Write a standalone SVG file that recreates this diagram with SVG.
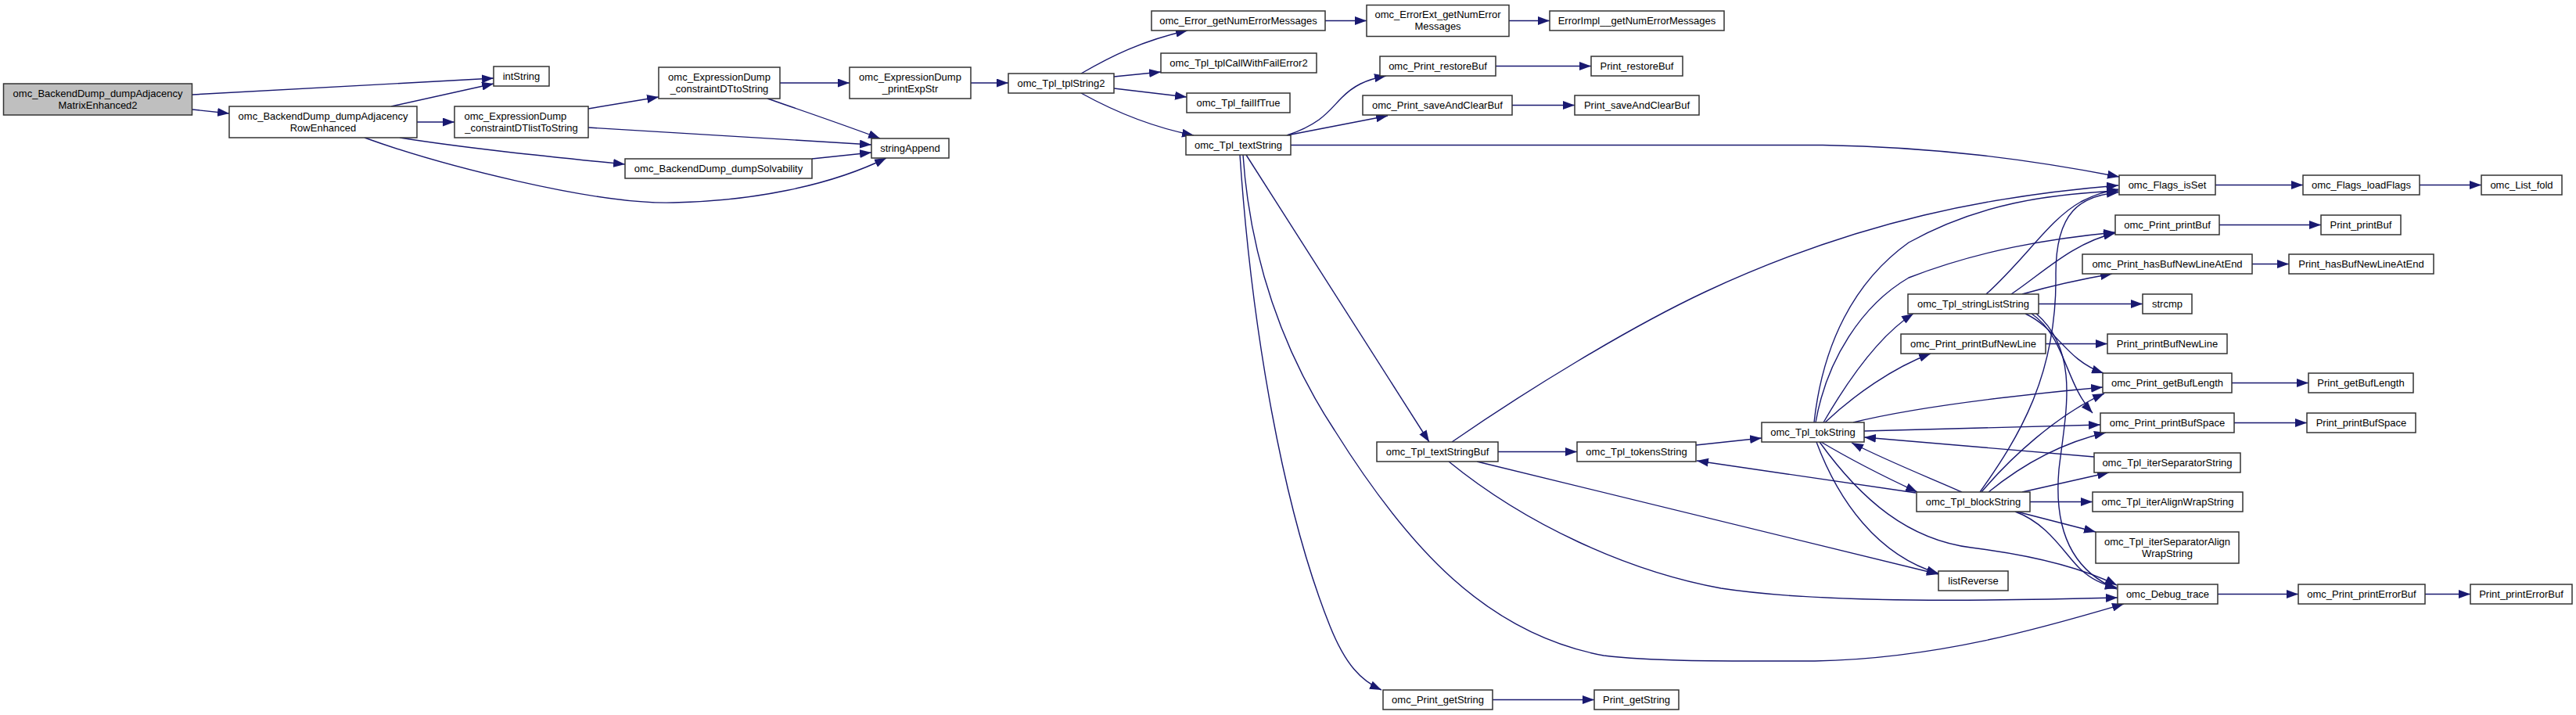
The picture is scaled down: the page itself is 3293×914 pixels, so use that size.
<svg xmlns="http://www.w3.org/2000/svg" width="3293" height="914" viewBox="0 0 3293 914">
<style>
.n rect{fill:#fff;stroke:#333;stroke-width:1.5}
.root rect{fill:#bfbfbf}
text{font-family:"Liberation Sans",Arial,sans-serif;font-size:13px;fill:#000;text-anchor:middle}
.e path{fill:none;stroke:#191970;stroke-width:1.4;marker-end:url(#a)}
</style>
<defs>
<marker id="a" markerUnits="userSpaceOnUse" markerWidth="15" markerHeight="11" refX="15" refY="5.5" orient="auto" viewBox="0 0 15 11"><path d="M0,0 L15,5.5 L0,11 z" fill="#191970"/></marker>
</defs>
<rect width="3293" height="914" fill="#fff"/>
<g id="edges" class="e">
<path d="M246,121 L631,100"/>
<path d="M246,140 L293,145"/>
<path d="M500,136 L631,107"/>
<path d="M533,156 L581,156"/>
<path d="M511,176 C600,190 700,200 799,210"/>
<path d="M466,176 C560,210 760,262 861,259 C960,257 1060,238 1133,202"/>
<path d="M752,139 L842,124"/>
<path d="M752,163 L1114,185"/>
<path d="M997,106 L1086,106"/>
<path d="M981,126 C1030,143 1080,160 1125,177"/>
<path d="M1038,203 L1114,195"/>
<path d="M1241,106 L1289,106"/>
<path d="M1382,94 C1420,72 1460,52 1518,39"/>
<path d="M1424,98 L1484,92"/>
<path d="M1424,113 L1517,124"/>
<path d="M1382,119 C1420,140 1470,162 1526,173"/>
<path d="M1694,26.5 L1747,26.5"/>
<path d="M1929,26.5 L1981,26.5"/>
<path d="M1645,173 C1690,158 1700,140 1715,125 C1730,110 1745,102 1772,97"/>
<path d="M1645,173 L1774,148"/>
<path d="M1912,84.5 L2034,84.5"/>
<path d="M1933,134.5 L2013,134.5"/>
<path d="M1650,185.5 L2330,185.5 C2480,188 2600,205 2709,226"/>
<path d="M1593,198 L1827,565"/>
<path d="M1589,198 C1598,330 1640,450 1706,550 C1800,700 1900,810 2050,838 C2120,846 2200,845 2320,845 C2480,842 2620,800 2715,772"/>
<path d="M1585,198 C1600,420 1640,650 1700,800 C1720,850 1740,870 1766,882"/>
<path d="M1915,577.5 L2016,577.5"/>
<path d="M1856,565 C1950,500 2080,420 2180,373 C2380,280 2550,250 2708,237"/>
<path d="M1888,590 L2478,734"/>
<path d="M1852,590 C1950,670 2080,730 2200,752 C2330,772 2550,768 2707,764"/>
<path d="M2168,569 L2252,560"/>
<path d="M2449,630 L2169,589"/>
<path d="M2328,565 C2370,590 2410,610 2451,629"/>
<path d="M2508,629 C2460,608 2410,588 2367,566"/>
<path d="M2677,584 L2383,559"/>
<path d="M2322,565 C2350,640 2400,710 2478,733"/>
<path d="M2326,565 C2380,640 2440,690 2520,700 C2600,710 2660,725 2706,748"/>
<path d="M2331,540 C2360,490 2400,430 2446,401"/>
<path d="M2333,540 C2370,505 2420,470 2468,452"/>
<path d="M2319,540 C2330,440 2370,360 2440,310 C2530,260 2620,248 2708,244"/>
<path d="M2321,540 C2335,460 2380,390 2440,355 C2530,320 2620,305 2704,297"/>
<path d="M2369,540 C2450,520 2580,505 2688,495"/>
<path d="M2383,551 L2685,543"/>
<path d="M2539,376 C2590,330 2620,280 2660,258 C2680,248 2690,245 2708,242"/>
<path d="M2571,376 C2610,350 2650,310 2704,298"/>
<path d="M2585,376 C2620,366 2660,357 2700,350"/>
<path d="M2606,388.5 L2739,388.5"/>
<path d="M2589,401 C2630,420 2640,460 2689,477"/>
<path d="M2597,401 C2640,430 2640,490 2675,528"/>
<path d="M2603,401 C2660,450 2640,530 2632,600 C2625,680 2650,730 2706,753"/>
<path d="M2615,439.5 L2694,439.5"/>
<path d="M2531,629 C2580,560 2630,480 2628,350 C2628,270 2660,250 2708,246"/>
<path d="M2533,629 C2570,585 2630,530 2690,503"/>
<path d="M2542,629 C2590,590 2640,565 2692,553"/>
<path d="M2585,629 L2696,604"/>
<path d="M2595,641.5 L2675,641.5"/>
<path d="M2578,654 L2679,680"/>
<path d="M2576,654 C2620,670 2640,710 2660,728 C2675,742 2690,748 2706,751"/>
<path d="M2835,759.5 L2938,759.5"/>
<path d="M3100,759.5 L3158,759.5"/>
<path d="M2832,236.5 L2944,236.5"/>
<path d="M3093,236.5 L3172,236.5"/>
<path d="M2837,287.5 L2967,287.5"/>
<path d="M2879,337.5 L2926,337.5"/>
<path d="M2853,489.5 L2951,489.5"/>
<path d="M2856,540.5 L2949,540.5"/>
<path d="M1908,894.5 L2038,894.5"/>
</g>
<g id="root" class="n root"><rect x="4.5" y="107" width="241" height="40"/><text x="125" y="123.5">omc_BackendDump_dumpAdjacency</text><text x="125" y="138.5">MatrixEnhanced2</text></g>
<g id="rowEnhanced" class="n"><rect x="293" y="136" width="240" height="40"/><text x="413" y="152.5">omc_BackendDump_dumpAdjacency</text><text x="413" y="167.5">RowEnhanced</text></g>
<g id="intString" class="n"><rect x="631" y="85" width="71" height="25"/><text x="666.5" y="102">intString</text></g>
<g id="dtList" class="n"><rect x="581" y="136" width="171" height="40"/><text x="593.5" y="152.5" style="text-anchor:start">omc_ExpressionDump</text><text x="666.5" y="167.5">_constraintDTlistToString</text></g>
<g id="dtTo" class="n"><rect x="842" y="86" width="155" height="40"/><text x="919.5" y="102.5">omc_ExpressionDump</text><text x="919.5" y="117.5">_constraintDTtoString</text></g>
<g id="solvability" class="n"><rect x="799" y="203" width="239" height="25"/><text x="918.5" y="220">omc_BackendDump_dumpSolvability</text></g>
<g id="printExpStr" class="n"><rect x="1086" y="86" width="155" height="40"/><text x="1163.5" y="102.5">omc_ExpressionDump</text><text x="1163.5" y="117.5">_printExpStr</text></g>
<g id="stringAppend" class="n"><rect x="1114" y="177" width="99" height="25"/><text x="1163.5" y="194">stringAppend</text></g>
<g id="tplString2" class="n"><rect x="1289" y="94" width="135" height="25"/><text x="1356.5" y="111">omc_Tpl_tplString2</text></g>
<g id="errGetNum" class="n"><rect x="1472" y="14" width="222" height="25"/><text x="1583" y="31">omc_Error_getNumErrorMessages</text></g>
<g id="tplCall" class="n"><rect x="1484" y="68" width="199" height="25"/><text x="1583.5" y="85">omc_Tpl_tplCallWithFailError2</text></g>
<g id="failIfTrue" class="n"><rect x="1517" y="119" width="132" height="25"/><text x="1583" y="136">omc_Tpl_failIfTrue</text></g>
<g id="textString" class="n"><rect x="1516" y="173" width="134" height="25"/><text x="1583" y="190">omc_Tpl_textString</text></g>
<g id="errExt" class="n"><rect x="1747" y="6.5" width="182" height="40"/><text x="1838" y="23">omc_ErrorExt_getNumError</text><text x="1838" y="38">Messages</text></g>
<g id="errImpl" class="n"><rect x="1981" y="14" width="223" height="25"/><text x="2092.5" y="31">ErrorImpl__getNumErrorMessages</text></g>
<g id="omcRestoreBuf" class="n"><rect x="1764" y="72" width="148" height="25"/><text x="1838" y="89">omc_Print_restoreBuf</text></g>
<g id="restoreBuf" class="n"><rect x="2034" y="72" width="117" height="25"/><text x="2092.5" y="89">Print_restoreBuf</text></g>
<g id="omcSaveAndClearBuf" class="n"><rect x="1742" y="122" width="191" height="25"/><text x="1837.5" y="139">omc_Print_saveAndClearBuf</text></g>
<g id="saveAndClearBuf" class="n"><rect x="2013" y="122" width="159" height="25"/><text x="2092.5" y="139">Print_saveAndClearBuf</text></g>
<g id="textStringBuf" class="n"><rect x="1760" y="565" width="155" height="25"/><text x="1837.5" y="582">omc_Tpl_textStringBuf</text></g>
<g id="tokensString" class="n"><rect x="2016" y="565" width="152" height="25"/><text x="2092" y="582">omc_Tpl_tokensString</text></g>
<g id="omcGetString" class="n"><rect x="1768" y="882" width="140" height="25"/><text x="1838" y="899">omc_Print_getString</text></g>
<g id="getString" class="n"><rect x="2038" y="882" width="108" height="25"/><text x="2092" y="899">Print_getString</text></g>
<g id="tokString" class="n"><rect x="2252" y="540" width="131" height="25"/><text x="2317.5" y="557">omc_Tpl_tokString</text></g>
<g id="stringListString" class="n"><rect x="2439" y="376" width="167" height="25"/><text x="2522.5" y="393">omc_Tpl_stringListString</text></g>
<g id="omcPrintBufNewLine" class="n"><rect x="2430" y="427" width="185" height="25"/><text x="2522.5" y="444">omc_Print_printBufNewLine</text></g>
<g id="blockString" class="n"><rect x="2450" y="629" width="145" height="25"/><text x="2522.5" y="646">omc_Tpl_blockString</text></g>
<g id="listReverse" class="n"><rect x="2478" y="730" width="89" height="25"/><text x="2522.5" y="747">listReverse</text></g>
<g id="flagsIsSet" class="n"><rect x="2709" y="224" width="123" height="25"/><text x="2770.5" y="241">omc_Flags_isSet</text></g>
<g id="omcPrintBuf" class="n"><rect x="2704" y="275" width="133" height="25"/><text x="2770.5" y="292">omc_Print_printBuf</text></g>
<g id="omcHasBufNewLineAtEnd" class="n"><rect x="2662" y="325" width="217" height="25"/><text x="2770.5" y="342">omc_Print_hasBufNewLineAtEnd</text></g>
<g id="strcmp" class="n"><rect x="2739" y="376" width="63" height="25"/><text x="2770.5" y="393">strcmp</text></g>
<g id="printBufNewLine" class="n"><rect x="2694" y="427" width="153" height="25"/><text x="2770.5" y="444">Print_printBufNewLine</text></g>
<g id="omcGetBufLength" class="n"><rect x="2688" y="477" width="165" height="25"/><text x="2770.5" y="494">omc_Print_getBufLength</text></g>
<g id="omcPrintBufSpace" class="n"><rect x="2685" y="528" width="171" height="25"/><text x="2770.5" y="545">omc_Print_printBufSpace</text></g>
<g id="iterSeparatorString" class="n"><rect x="2677" y="579" width="187" height="25"/><text x="2770.5" y="596">omc_Tpl_iterSeparatorString</text></g>
<g id="iterAlignWrapString" class="n"><rect x="2675" y="629" width="192" height="25"/><text x="2771" y="646">omc_Tpl_iterAlignWrapString</text></g>
<g id="iterSeparatorAlignWrapString" class="n"><rect x="2679" y="680" width="183" height="40"/><text x="2770.5" y="696.5">omc_Tpl_iterSeparatorAlign</text><text x="2770.5" y="711.5">WrapString</text></g>
<g id="debugTrace" class="n"><rect x="2707" y="747" width="128" height="25"/><text x="2771" y="764">omc_Debug_trace</text></g>
<g id="loadFlags" class="n"><rect x="2944" y="224" width="149" height="25"/><text x="3018.5" y="241">omc_Flags_loadFlags</text></g>
<g id="printBuf" class="n"><rect x="2967" y="275" width="102" height="25"/><text x="3018" y="292">Print_printBuf</text></g>
<g id="hasBufNewLineAtEnd" class="n"><rect x="2926" y="325" width="185" height="25"/><text x="3018.5" y="342">Print_hasBufNewLineAtEnd</text></g>
<g id="getBufLength" class="n"><rect x="2951" y="477" width="134" height="25"/><text x="3018" y="494">Print_getBufLength</text></g>
<g id="printBufSpace" class="n"><rect x="2949" y="528" width="139" height="25"/><text x="3018.5" y="545">Print_printBufSpace</text></g>
<g id="omcPrintErrorBuf" class="n"><rect x="2938" y="747" width="162" height="25"/><text x="3019" y="764">omc_Print_printErrorBuf</text></g>
<g id="listFold" class="n"><rect x="3172" y="224" width="103" height="25"/><text x="3223.5" y="241">omc_List_fold</text></g>
<g id="printErrorBuf" class="n"><rect x="3158" y="747" width="130" height="25"/><text x="3223" y="764">Print_printErrorBuf</text></g>
</svg>
